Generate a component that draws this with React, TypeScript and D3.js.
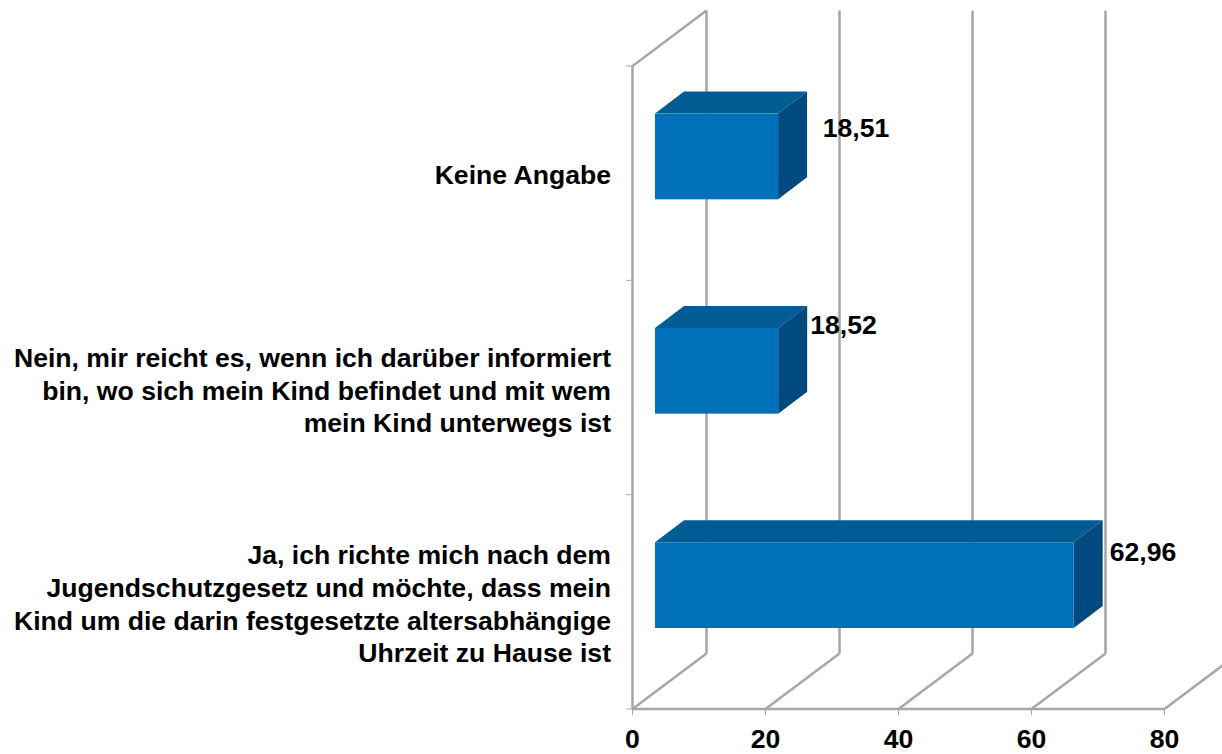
import { useEffect, useRef } from 'react';
import * as d3 from 'd3';

const categories = ['Keine Angabe', 'Nein', 'Ja'];
const values = [18.51, 18.52, 62.96];
const valueLabels = ['18,51', '18,52', '62,96'];
const xTicks = [0, 20, 40, 60, 80];
const categoryLines = [
  ['Keine Angabe'],
  ['Nein, mir reicht es, wenn ich darüber informiert', 'bin, wo sich mein Kind befindet und mit wem', 'mein Kind unterwegs ist'],
  ['Ja, ich richte mich nach dem', 'Jugendschutzgesetz und möchte, dass mein', 'Kind um die darin festgesetzte altersabhängige', 'Uhrzeit zu Hause ist'],
];

const FONT = '"Liberation Sans", Arial, sans-serif';
const FONT_SIZE = 26.6;
const GRID = '#a6a6a6';

const App = () => {
  const svgRef = useRef<SVGSVGElement>(null);

  useEffect(() => {
    const svg = d3.select(svgRef.current);
    svg.selectAll('*').remove();

    const x = d3.scaleLinear().domain([0, 80]).range([632.5, 1164.5]);
    const y = d3.scaleBand().domain(categories).range([66, 709]);

    // 3D offsets: the back wall and the bar's own depth
    const wall = { dx: 74, dy: -55.5 };
    const barDepth = { dx: 29, dy: -22 };
    const barShift = { dx: 22.5, dy: -16.7 };
    const barHeight = y.bandwidth() * 0.4;

    const grid = svg.append('g')
      .attr('fill', 'none')
      .attr('stroke', GRID)
      .attr('stroke-width', 2.5);

    // Back wall verticals and floor diagonals
    xTicks.forEach(t => {
      const x0 = x(t);
      grid.append('path').attr('d', `M${x0},709L${x0 + wall.dx},${709 + wall.dy}`);
      if (t < 80) {
        grid.append('path').attr('d', `M${x0 + wall.dx},${709 + wall.dy}V${66 + wall.dy}`);
      }
      grid.append('path').attr('d', `M${x0},709V715`).attr('stroke-width', 1);
    });

    // Left wall
    grid.append('path').attr('d', `M${x(0)},709V66L${x(0) + wall.dx},${66 + wall.dy}`);
    grid.append('path').attr('d', `M${x(0)},709H${x(80)}`);

    // Category ticks
    [...categories.map(c => y(c)), 709].forEach(v => {
      grid.append('path').attr('d', `M626,${v}H${x(0)}`).attr('stroke-width', 1);
    });

    // Bars
    const bars = svg.append('g')
      .selectAll('g')
      .data(categories)
      .enter()
      .append('g');

    bars.each(function (c, i) {
      const g = d3.select(this);
      const left = x(0) + barShift.dx;
      const right = left + x(values[i]) - x(0);
      const top = y(c) + (y.bandwidth() - barHeight) / 2 + barShift.dy;
      const bottom = top + barHeight;
      const { dx, dy } = barDepth;

      g.append('path')
        .attr('d', `M${left},${top}L${left + dx},${top + dy}H${right + dx}L${right},${top}Z`)
        .attr('fill', '#005c92');
      g.append('path')
        .attr('d', `M${right},${top}L${right + dx},${top + dy}V${bottom + dy}L${right},${bottom}Z`)
        .attr('fill', '#004a7f');
      g.append('rect')
        .attr('x', left)
        .attr('y', top)
        .attr('width', right - left)
        .attr('height', barHeight)
        .attr('fill', '#0070ba');
    });

    // Category labels, hand placed in the original
    const labelBaselines = [[184], [366.5, 399.5, 432], [564, 596.5, 629.5, 661.5]];
    categoryLines.forEach((lines, i) => {
      lines.forEach((line, j) => {
        svg.append('text')
          .attr('x', 611)
          .attr('y', labelBaselines[i][j])
          .attr('text-anchor', 'end')
          .attr('font-family', FONT)
          .attr('font-weight', 'bold')
          .attr('font-size', FONT_SIZE)
          .attr('fill', '#000')
          .text(line);
      });
    });

    // Value labels, also moved by hand in the original
    const labelPos = [[856, 137], [843.5, 334], [1143, 561]];
    valueLabels.forEach((label, i) => {
      svg.append('text')
        .attr('x', labelPos[i][0])
        .attr('y', labelPos[i][1])
        .attr('text-anchor', 'middle')
        .attr('font-family', FONT)
        .attr('font-weight', 'bold')
        .attr('font-size', FONT_SIZE)
        .attr('fill', '#000')
        .text(label);
    });

    // X tick labels
    xTicks.forEach(t => {
      svg.append('text')
        .attr('x', x(t))
        .attr('y', 748.3)
        .attr('text-anchor', 'middle')
        .attr('font-family', FONT)
        .attr('font-weight', 'bold')
        .attr('font-size', FONT_SIZE)
        .attr('fill', '#000')
        .text(t);
    });
  }, []);

  return (
    <svg
      ref={svgRef}
      width={1222}
      height={754}
      style={{ position: 'absolute', left: 0, top: 0, background: '#fff' }}
    />
  );
};

export default App;
